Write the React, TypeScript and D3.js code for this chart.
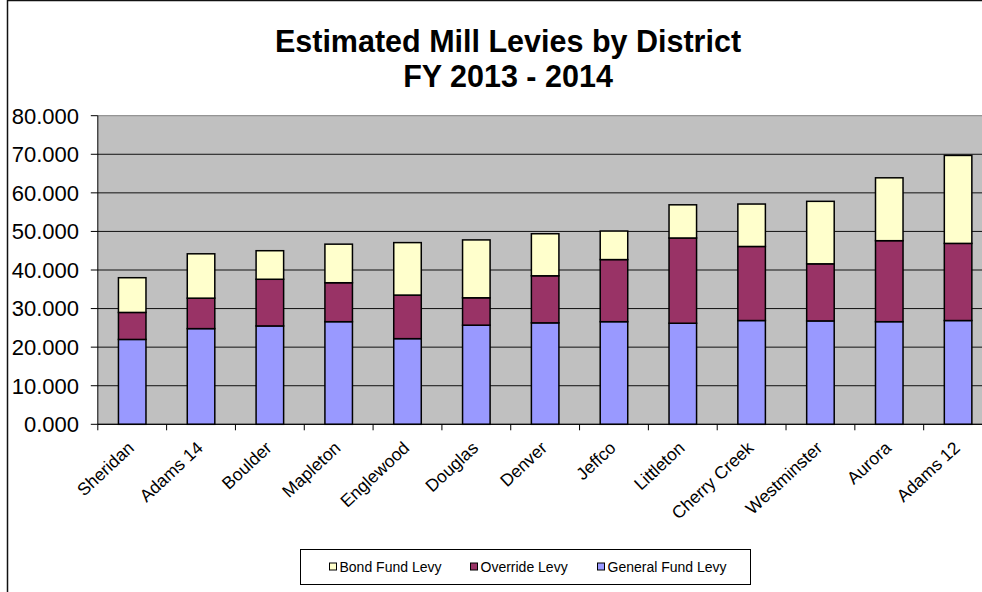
import React from "react";
import * as d3 from "d3";

const districts = [
  "Sheridan", "Adams 14", "Boulder", "Mapleton", "Englewood", "Douglas", "Denver",
  "Jeffco", "Littleton", "Cherry Creek", "Westminster", "Aurora", "Adams 12",
];
const generalFund = [22.0, 24.8, 25.5, 26.6, 22.2, 25.7, 26.3, 26.6, 26.2, 26.9, 26.8, 26.6, 26.9];
const overrideLevy = [7.0, 7.9, 12.1, 10.1, 11.3, 7.1, 12.2, 16.1, 22.1, 19.2, 14.8, 21.0, 20.0];
const bondFund = [9.0, 11.5, 7.4, 10.0, 13.6, 15.0, 10.9, 7.4, 8.6, 11.0, 16.2, 16.3, 22.8];
const yTicks = [0, 10, 20, 30, 40, 50, 60, 70, 80];

const seriesKeys = ["general", "override", "bond"];
const seriesColors: Record<string, string> = {
  general: "#9999FF",
  override: "#993366",
  bond: "#FFFFCC",
};
const legendItems = [
  { key: "bond", label: "Bond Fund Levy" },
  { key: "override", label: "Override Levy" },
  { key: "general", label: "General Fund Levy" },
];

const W = 982;
const H = 592;
const FONT = "'Liberation Sans', Arial, sans-serif";
const plot = { left: 97.8, right: 992.5, top: 115.7, bottom: 424.3 };

export default function App() {
  const rows = districts.map((d, i) => ({
    district: d,
    general: generalFund[i],
    override: overrideLevy[i],
    bond: bondFund[i],
  }));
  const stacked = d3.stack<any>().keys(seriesKeys)(rows);

  const x = d3
    .scaleBand<string>()
    .domain(districts)
    .range([plot.left, plot.right])
    .paddingInner(0.6)
    .paddingOuter(0.3);
  const step = x.step();
  const y = d3.scaleLinear().domain([0, 80]).range([plot.bottom, plot.top]);
  const fmt = d3.format(".3f");

  return (
    <svg
      width={W}
      height={H}
      style={{ position: "absolute", left: 0, top: 0, background: "#fff" }}
      fontFamily={FONT}
    >
      {/* outer frame */}
      <line x1={7.5} y1={0.5} x2={W} y2={0.5} stroke="#111" strokeWidth={1.5} />
      <line x1={7.5} y1={0} x2={7.5} y2={H} stroke="#111" strokeWidth={1.5} />

      {/* title */}
      <text x={508} y={52} textAnchor="middle" fontSize={30.5} fontWeight="bold" fill="#000">
        Estimated Mill Levies by District
      </text>
      <text x={508} y={87} textAnchor="middle" fontSize={30.5} fontWeight="bold" fill="#000">
        FY 2013 - 2014
      </text>

      {/* plot background */}
      <rect
        x={plot.left}
        y={plot.top}
        width={plot.right - plot.left}
        height={plot.bottom - plot.top}
        fill="#C0C0C0"
      />

      {/* gridlines */}
      {yTicks.map((t) => (
        <line
          key={"g" + t}
          x1={plot.left}
          x2={plot.right}
          y1={y(t)}
          y2={y(t)}
          stroke={t === 80 ? "#808080" : "#111"}
          strokeWidth={1}
        />
      ))}

      {/* stacked bars */}
      {stacked.map((s) => (
        <g key={s.key} fill={seriesColors[s.key]}>
          {s.map((d: any, i: number) => (
            <rect
              key={i}
              x={x(districts[i])!}
              y={y(d[1])}
              width={x.bandwidth()}
              height={y(d[0]) - y(d[1])}
              stroke="#000"
              strokeWidth={1.5}
            />
          ))}
        </g>
      ))}

      {/* y axis */}
      <line x1={plot.left} x2={plot.left} y1={plot.top} y2={plot.bottom} stroke="#000" strokeWidth={1} />
      {yTicks.map((t) => (
        <g key={"y" + t}>
          <line x1={plot.left - 7} x2={plot.left} y1={y(t)} y2={y(t)} stroke="#000" />
          <text x={79} y={y(t)} dy="0.36em" textAnchor="end" fontSize={22} fill="#000">
            {fmt(t)}
          </text>
        </g>
      ))}

      {/* x axis */}
      <line x1={plot.left} x2={plot.right} y1={plot.bottom} y2={plot.bottom} stroke="#000" />
      {d3.range(districts.length + 1).map((i) => (
        <line
          key={"xt" + i}
          x1={plot.left + i * step}
          x2={plot.left + i * step}
          y1={plot.bottom}
          y2={plot.bottom + 6}
          stroke="#000"
        />
      ))}
      {districts.map((d) => {
        const cx = x(d)! + x.bandwidth() / 2;
        return (
          <text
            key={"xl" + d}
            transform={`translate(${cx + 3},${plot.bottom + 25}) rotate(-43)`}
            textAnchor="end"
            fontSize={17.5}
            fill="#000"
          >
            {d}
          </text>
        );
      })}

      {/* legend */}
      <rect x={300.5} y={549.5} width={450} height={35} fill="#fff" stroke="#000" strokeWidth={1} />
      {legendItems.map((item, i) => {
        const sx = [329.5, 470.5, 597.5][i];
        return (
          <g key={item.key}>
            <rect x={sx} y={563} width={7} height={7} fill={seriesColors[item.key]} stroke="#000" strokeWidth={1} />
            <text x={sx + 10} y={566.5} dy="0.36em" fontSize={14} fill="#000">
              {item.label}
            </text>
          </g>
        );
      })}
    </svg>
  );
}
